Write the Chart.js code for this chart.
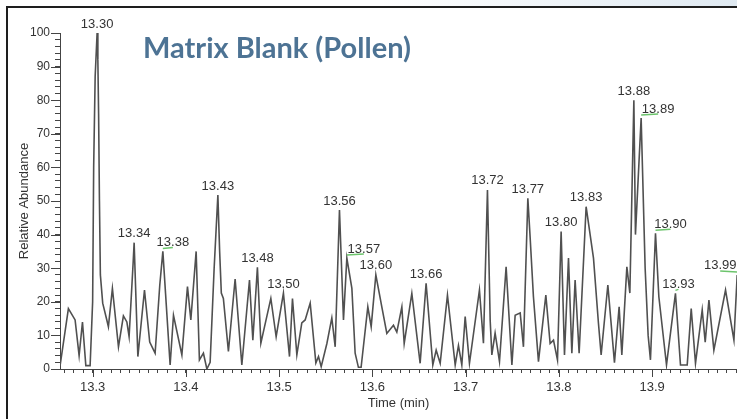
<!DOCTYPE html>
<html>
<head>
<meta charset="utf-8">
<script src="https://cdn.jsdelivr.net/npm/chart.js@4.4.0/dist/chart.umd.min.js"></script>
<style>
  html, body { margin: 0; padding: 0; background: #fff; }
  #wrap { width: 737px; height: 419px; }
</style>
</head>
<body>
<div id="wrap"><canvas id="myChart" width="737" height="419"></canvas></div>
<script>
// chromatogram trace
var times = [
  13.2651, 13.2740, 13.2812, 13.2855, 13.2891, 13.2927, 13.2973, 13.3000, 13.3011, 13.3027,
  13.3048, 13.3056, 13.3064, 13.3073, 13.3083, 13.3108, 13.3152, 13.3169, 13.3212, 13.3277,
  13.3330, 13.3367, 13.3391, 13.3435, 13.3445, 13.3485, 13.3556, 13.3612, 13.3670, 13.3720,
  13.3753, 13.3831, 13.3867, 13.3957, 13.4017, 13.4053, 13.4110, 13.4145, 13.4188, 13.4225,
  13.4260, 13.4303, 13.4343, 13.4362, 13.4380, 13.4402, 13.4456, 13.4528, 13.4600, 13.4682,
  13.4718, 13.4767, 13.4804, 13.4911, 13.4968, 13.5046, 13.5111, 13.5143, 13.5190, 13.5243,
  13.5279, 13.5333, 13.5394, 13.5422, 13.5451, 13.5512, 13.5565, 13.5601, 13.5647, 13.5690,
  13.5726, 13.5780, 13.5815, 13.5850, 13.5879, 13.5951, 13.5987, 13.6037, 13.6101, 13.6155,
  13.6226, 13.6262, 13.6316, 13.6341, 13.6423, 13.6512, 13.6576, 13.6648, 13.6684, 13.6727,
  13.6805, 13.6888, 13.6923, 13.6959, 13.6995, 13.7041, 13.7148, 13.7191, 13.7234, 13.7263,
  13.7281, 13.7316, 13.7363, 13.7434, 13.7496, 13.7531, 13.7585, 13.7620, 13.7667, 13.7692,
  13.7727, 13.7781, 13.7860, 13.7906, 13.7942, 13.7985, 13.8024, 13.8060, 13.8103, 13.8139,
  13.8174, 13.8217, 13.8292, 13.8371, 13.8424, 13.8453, 13.8525, 13.8596, 13.8646, 13.8675,
  13.8729, 13.8761, 13.8804, 13.8821, 13.8882, 13.8925, 13.8957, 13.8982, 13.9036, 13.9072,
  13.9154, 13.9250, 13.9304, 13.9376, 13.9419, 13.9465, 13.9537, 13.9569, 13.9609, 13.9662,
  13.9787, 13.9877, 13.9912
];
var abundance = [
  1, 18, 14.6, 4, 14, 1, 1, 20, 60, 87,
  100, 92, 76, 50, 28, 19.6, 14.6, 12.6, 24, 6.6,
  15.8, 14, 9.6, 32, 37.6, 3.7, 23.5, 8, 4.7, 25,
  35, 1.2, 16, 4.2, 24.5, 14.6, 35, 2.7, 4.7, 0,
  2, 30, 51.8, 35, 22.6, 21, 5.2, 26.8, 1.2, 26.5,
  8.6, 30.3, 7.7, 21, 9.6, 22.6, 3.7, 21, 4.2, 13.7,
  14.6, 19.6, 1.8, 3.7, 0.7, 7.6, 15.2, 6.6, 47.3, 14.6,
  33, 24, 4.7, 0.5, 0.5, 18.5, 12.6, 28, 18.5, 10.6,
  13, 11, 18.5, 7.6, 22.5, 1.7, 25.5, 1.2, 5.6, 1.7,
  22, 1.2, 7, 1.2, 15.6, 1.7, 23.5, 7.7, 53.3, 14.6,
  4.2, 10.7, 2.2, 30.4, 1.2, 16, 16.7, 6.6, 50.8, 39,
  21.5, 2.2, 22, 7.6, 8.6, 2.7, 40.9, 4.2, 33, 4.7,
  26.5, 4.7, 48.3, 33, 13.7, 4.2, 25, 1.9, 18.5, 4.2,
  30.4, 22.6, 80, 40, 74.7, 30, 10, 2.7, 40.4, 21.5,
  1.2, 22.5, 1.2, 1.2, 18, 1.7, 17.6, 8, 20.5, 5.6,
  23.5, 8.6, 28
];

// labelled peaks
var peakLabels = ["13.30", "13.34", "13.38", "13.43", "13.48", "13.50", "13.56", "13.57", "13.60", "13.66",
                  "13.72", "13.77", "13.80", "13.83", "13.88", "13.89", "13.90", "13.93", "13.99"];
var peakTimes = [13.3048, 13.3445, 13.3753, 13.4343, 13.4767, 13.5046, 13.5647, 13.5726, 13.6037, 13.6576,
                 13.7234, 13.7667, 13.8024, 13.8292, 13.8804, 13.8882, 13.9036, 13.9250, 13.9912];
var peakValues = [100, 37.6, 35, 51.8, 30.3, 22.6, 47.3, 33, 28, 25.5,
                  53.3, 50.8, 40.9, 48.3, 80, 74.7, 40.4, 22.5, 28];

var xMin = 13.265, xMax = 13.991;
var font = "'Liberation Sans', Arial, sans-serif";

function isMult(v, step) {
  var r = v / step;
  return Math.abs(r - Math.round(r)) < 1e-6;
}

var decorPlugin = {
  id: 'decor',
  beforeDraw: function(chart) {
    var ctx = chart.ctx;
    ctx.save();
    ctx.fillStyle = '#fff';
    ctx.fillRect(0, 0, chart.width, chart.height);
    var g = ctx.createLinearGradient(380, 0, chart.width, 0);
    g.addColorStop(0, '#ffffff');
    g.addColorStop(1, '#dfe9f1');
    ctx.fillStyle = g;
    ctx.fillRect(0, 0, chart.width, 6);
    ctx.restore();
  },
  afterDraw: function(chart) {
    var ctx = chart.ctx;
    var xs = chart.scales.x, ys = chart.scales.y;
    var area = chart.chartArea;
    ctx.save();
    // frame
    ctx.strokeStyle = '#1e1e1e';
    ctx.lineWidth = 2;
    ctx.beginPath();
    ctx.moveTo(7, chart.height);
    ctx.lineTo(7, 7);
    ctx.lineTo(chart.width, 7);
    ctx.stroke();

    // major ticks (longer)
    ctx.strokeStyle = '#444';
    ctx.lineWidth = 1;
    ctx.beginPath();
    xs.ticks.forEach(function(t) {
      if (isMult(t.value, 0.1)) {
        var px = Math.round(xs.getPixelForValue(t.value)) + 0.5;
        ctx.moveTo(px, area.bottom);
        ctx.lineTo(px, area.bottom + 8);
      }
    });
    ys.ticks.forEach(function(t) {
      if (isMult(t.value, 10)) {
        var py = Math.round(ys.getPixelForValue(t.value)) + 0.5;
        ctx.moveTo(area.left - 9, py);
        ctx.lineTo(area.left, py);
      }
    });
    ctx.stroke();

    // peak labels
    var offs = chart.options.plugins.decor.offsets;
    ctx.font = '13px ' + font;
    ctx.textAlign = 'center';
    ctx.textBaseline = 'middle';
    for (var i = 0; i < peakLabels.length; i++) {
      var px = xs.getPixelForValue(peakTimes[i]);
      var py = ys.getPixelForValue(peakValues[i]);
      var dx = offs[peakLabels[i]];
      if (dx !== undefined) {
        ctx.strokeStyle = '#6cc46c';
        ctx.lineWidth = 1.5;
        ctx.beginPath();
        ctx.moveTo(px, py - 3);
        ctx.lineTo(px + dx, py - 4);
        ctx.stroke();
      } else {
        dx = 0;
      }
      ctx.fillStyle = '#333';
      ctx.fillText(peakLabels[i], px + dx, py - 9);
    }

    // chart caption
    ctx.font = 'bold 29px Lato, sans-serif';
    ctx.fillStyle = '#4d7394';
    ctx.textAlign = 'left';
    ctx.textBaseline = 'alphabetic';
    ctx.fillText('Matrix Blank (Pollen)', 143, 58);
    ctx.restore();
  }
};

var points = times.map(function(t, i) { return { x: t, y: abundance[i] }; });

var ctx = document.getElementById('myChart').getContext('2d');
var chart = new Chart(ctx, {
  type: 'line',
  data: {
    datasets: [{
      data: points,
      borderColor: '#505050',
      borderWidth: 1.6,
      pointRadius: 0,
      tension: 0,
      fill: false
    }]
  },
  options: {
    responsive: false,
    animation: false,
    devicePixelRatio: 1,
    layout: { padding: { top: 33, left: 0, right: 0, bottom: 0 } },
    plugins: {
      legend: { display: false },
      tooltip: { enabled: false },
      decor: {
        offsets: { "13.38": 10, "13.57": 17, "13.89": 17, "13.90": 15, "13.93": 3, "13.99": -17 }
      }
    },
    scales: {
      x: {
        type: 'linear',
        min: xMin,
        max: xMax,
        border: { color: '#444', width: 1 },
        grid: { drawOnChartArea: false, tickLength: 4, color: '#444' },
        ticks: {
          stepSize: 0.01,
          autoSkip: false,
          includeBounds: false,
          maxRotation: 0,
          padding: 7,
          color: '#333',
          font: { family: font, size: 13 },
          callback: function(v) { return isMult(v, 0.1) ? v.toFixed(1) : ''; }
        },
        title: {
          display: true,
          text: 'Time (min)',
          color: '#333',
          font: { family: font, size: 13 },
          padding: { top: 0, bottom: 8 }
        },
        afterFit: function(s) { s.height = 50; s.paddingLeft = 0; s.paddingRight = 0; }
      },
      y: {
        min: 0,
        max: 100,
        border: { color: '#444', width: 1 },
        grid: { drawOnChartArea: false, tickLength: 5, color: '#444' },
        ticks: {
          stepSize: 2,
          autoSkip: false,
          padding: 5,
          color: '#333',
          font: { family: font, size: 12 },
          callback: function(v) { return isMult(v, 10) ? String(v) : ''; }
        },
        title: {
          display: true,
          text: 'Relative Abundance',
          color: '#333',
          font: { family: font, size: 13 },
          padding: { top: 17, bottom: 0 }
        },
        afterFit: function(s) { s.width = 60; s.paddingTop = 0; s.paddingBottom = 0; }
      }
    }
  },
  plugins: [decorPlugin]
});
</script>
</body>
</html>
